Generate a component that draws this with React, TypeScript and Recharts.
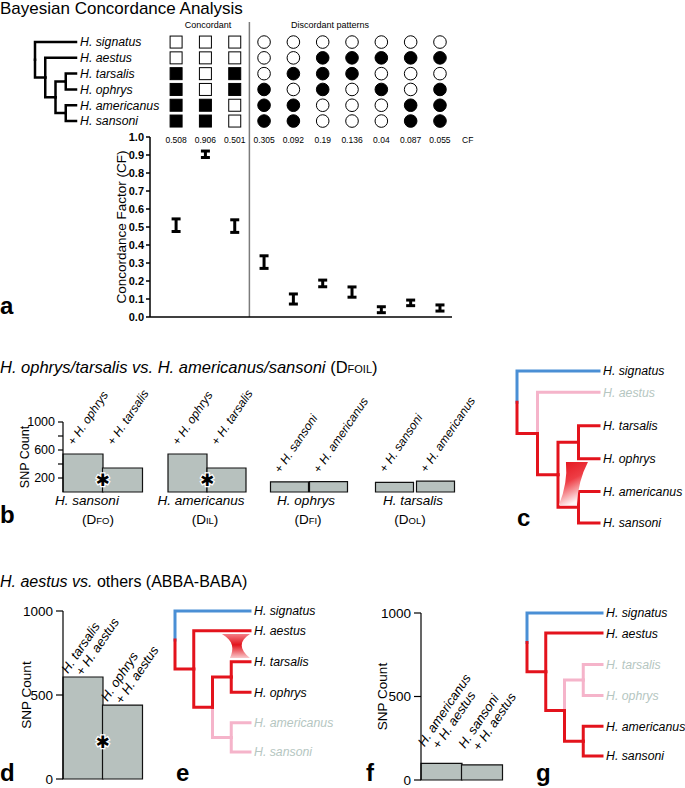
import React from "react"
import {
    ComposedChart,
    ScatterChart,
    BarChart,
    Scatter,
    Line,
    Bar,
    XAxis,
    YAxis,
    ErrorBar,
    ReferenceLine,
    LabelList,
} from "recharts"

const FONT = "'Liberation Sans', Arial, Helvetica, sans-serif"
const PAGE_W = 685
const PAGE_H = 788
const PAD = 100
const CHART_W = PAGE_W + 2 * PAD

const BLUE = "#4a8fd5"
const RED = "#e3131c"
const PINK = "#f5b4ca"
const FADED_TEXT = "#b5c6c1"
const BAR_FILL = "#b7c1be"

// ---- panel a: Bayesian concordance ----
const species = ["H. signatus", "H. aestus", "H. tarsalis", "H. ophrys", "H. americanus", "H. sansoni"]

// one row per split pattern, one entry per species (1 = filled)
const splitPatterns = [
    [0, 0, 1, 1, 1, 1],
    [0, 0, 0, 0, 1, 1],
    [0, 0, 1, 1, 0, 0],
    [0, 0, 0, 1, 1, 1],
    [0, 0, 1, 0, 1, 1],
    [0, 1, 1, 1, 0, 0],
    [0, 1, 1, 0, 0, 0],
    [0, 1, 0, 1, 0, 0],
    [0, 1, 0, 0, 1, 1],
    [0, 1, 0, 1, 1, 1],
]
const concordantCount = 3
const cfMean = [0.508, 0.906, 0.501, 0.305, 0.092, 0.19, 0.136, 0.04, 0.087, 0.055]
const cfLow = [0.475, 0.886, 0.47, 0.27, 0.072, 0.168, 0.11, 0.024, 0.063, 0.033]
const cfHigh = [0.545, 0.922, 0.54, 0.34, 0.128, 0.205, 0.167, 0.057, 0.094, 0.067]
const cfTicks = [0, 0.1, 0.2, 0.3, 0.4, 0.5, 0.6, 0.7, 0.8, 0.9, 1.0]

// ---- panel b: DFOIL ----
const dfoilGroups = ["H. sansoni", "H. americanus", "H. ophrys", "H. tarsalis"]
const dfoilStats = ["FO", "IL", "FI", "OL"]
const dfoilBars = [
    ["+ H. ophrys", "+ H. tarsalis"],
    ["+ H. ophrys", "+ H. tarsalis"],
    ["+ H. sansoni", "+ H. americanus"],
    ["+ H. sansoni", "+ H. americanus"],
]
const dfoilCounts = [
    [543, 343],
    [543, 343],
    [145, 148],
    [138, 155],
]
const dfoilSignificant = [true, true, false, false]
const dfoilTicks = [200, 400, 600, 800, 1000]
const dfoilTickLabels = [200, 600, 1000]

// ---- panels d / f: ABBA-BABA ----
const abbaTicks = [0, 500, 1000]
const abbaBarsD = [
    ["H. tarsalis", "+ H. aestus"],
    ["H. ophrys", "+ H. aestus"],
]
const abbaCountsD = [607, 440]
const abbaBarsF = [
    ["H. americanus", "+ H. aestus"],
    ["H. sansoni", "+ H. aestus"],
]
const abbaCountsF = [100, 90]

// ---- trees ----
type Clade = { id: string; kids?: Clade[] }
const cladogram: Clade = {
    id: "root",
    kids: [
        { id: "H. signatus" },
        {
            id: "aestus+ingroup",
            kids: [
                { id: "H. aestus" },
                {
                    id: "ingroup",
                    kids: [
                        { id: "tarsalis+ophrys", kids: [{ id: "H. tarsalis" }, { id: "H. ophrys" }] },
                        { id: "americanus+sansoni", kids: [{ id: "H. americanus" }, { id: "H. sansoni" }] },
                    ],
                },
            ],
        },
    ],
}
const TIP_DEPTH = 4
const bcaTreeRows = [0, 1, 2, 3, 4, 5]
const introTreeRows = [0, 0.65, 1.67, 2.67, 3.67, 4.63]
const fadedC = ["H. aestus"]
const fadedE = ["americanus+sansoni", "H. americanus", "H. sansoni"]
const fadedG = ["tarsalis+ophrys", "H. tarsalis", "H. ophrys"]
const introgressionC = [{ x: 2.68, y: 3.41 }]
const introgressionE = [{ x: 3.25, y: 1.15 }]

type Seg = { id: string; pts: { x: number; y: number }[] }
function layoutTree(node: Clade, depth: number, rows: number[], out: Seg[]): number {
    if (!node.kids) return rows[species.indexOf(node.id)]
    const ys = node.kids.map((k) => layoutTree(k, depth + 1, rows, out))
    const y = (ys[0] + ys[ys.length - 1]) / 2
    node.kids.forEach((k, i) => {
        const kx = k.kids ? depth + 1 : TIP_DEPTH
        out.push({ id: k.id, pts: [{ x: depth, y }, { x: depth, y: ys[i] }, { x: kx, y: ys[i] }] })
    })
    return y
}

function frame(l: number, t: number, r: number, b: number, leftW = 0, rightW = 0, bottomH = 0) {
    return { top: t, left: l + PAD - leftW, right: PAGE_W + PAD - r - rightW, bottom: PAGE_H - b - bottomH }
}

const layer: React.CSSProperties = { position: "absolute", left: -PAD, top: 0, width: CHART_W, height: PAGE_H }

function speciesSpans(s: string) {
    if (s.startsWith("+ ")) {
        return [
            <tspan key="p">+ </tspan>,
            <tspan key="s" fontStyle="italic">{s.slice(2)}</tspan>,
        ]
    }
    return <tspan fontStyle="italic">{s}</tspan>
}

// ---------------------------------------------------------------- trees
interface TreeProps {
    box: [number, number, number, number]
    rows: number[]
    faded?: string[]
    mono?: boolean
    wedge?: { x: number; y: number }[]
    wedgeShape?: (p: any) => React.ReactElement
}

function Tree({ box, rows, faded = [], mono, wedge, wedgeShape }: TreeProps) {
    const segs: Seg[] = []
    layoutTree(cladogram, 0, rows, segs)
    const colorOf = (id: string) => {
        if (mono) return "#000"
        if (id === "H. signatus") return BLUE
        return faded.includes(id) ? PINK : RED
    }
    const ordered = [...segs].sort((a, b) => Number(faded.includes(b.id)) - Number(faded.includes(a.id)))
    const [l, t, r, b] = box
    return (
        <div style={layer}>
            <ComposedChart width={CHART_W} height={PAGE_H} margin={frame(l, t, r, b, 0, 100, 0)}>
                <XAxis type="number" dataKey="x" domain={[0, TIP_DEPTH]} hide />
                <YAxis
                    type="number"
                    dataKey="y"
                    orientation="right"
                    reversed
                    domain={[rows[0], rows[rows.length - 1]]}
                    ticks={rows}
                    interval={0}
                    width={100}
                    axisLine={false}
                    tickLine={false}
                    tickSize={0}
                    tickMargin={4}
                    tick={(p: any) => {
                        const name = species[rows.indexOf(p.payload.value)]
                        return (
                            <text
                                x={p.x}
                                y={p.y}
                                dy="0.36em"
                                textAnchor="start"
                                fontSize={12.3}
                                fontStyle="italic"
                                fill={!mono && faded.includes(name) ? FADED_TEXT : "#000"}
                            >
                                {name}
                            </text>
                        )
                    }}
                />
                {ordered.map((s) => (
                    <Line
                        key={s.id}
                        data={s.pts}
                        dataKey="y"
                        stroke={colorOf(s.id)}
                        strokeWidth={mono ? 2.5 : 3}
                        strokeLinecap="square"
                        dot={false}
                        activeDot={false}
                        isAnimationActive={false}
                    />
                ))}
                {wedge && wedgeShape && (
                    <Scatter data={wedge} dataKey="y" shape={wedgeShape} isAnimationActive={false} />
                )}
            </ComposedChart>
        </div>
    )
}

const HornWedge = (p: any) => (
    <g transform={`translate(${p.cx},${p.cy})`}>
        <defs>
            <linearGradient id="hornGrad" x1="0" y1="0" x2="0.35" y2="1">
                <stop offset="0" stopColor={RED} />
                <stop offset="0.5" stopColor="#ee3d45" />
                <stop offset="1" stopColor="#fff4f4" />
            </linearGradient>
        </defs>
        <path d="M -6 -21 L 16 -21 Q 6 -2 5 22 L -13 22 Q -4 0 -6 -21 Z" fill="url(#hornGrad)" />
    </g>
)

const HourglassWedge = (p: any) => (
    <g transform={`translate(${p.cx},${p.cy})`}>
        <defs>
            <linearGradient id="glassGrad" x1="0" y1="0" x2="0" y2="1">
                <stop offset="0" stopColor="#f47e86" />
                <stop offset="0.45" stopColor={RED} />
                <stop offset="1" stopColor="#f9c9cc" />
            </linearGradient>
        </defs>
        <path d="M -14 -12 L 14 -12 C 3 -5 3 3 14 12 L -6 12 C -2 3 -2 -5 -14 -12 Z" fill="url(#glassGrad)" />
    </g>
)

// ---------------------------------------------------------------- bar labels
function rotatedLabels(
    lines: string[][],
    opt: { dx: number; dy: number; size: number; fromMax?: number; star?: boolean; indent?: number }
) {
    return (p: any) => {
        const vb = p.viewBox && p.viewBox.width != null ? p.viewBox : p
        const x = Number(vb.x)
        const y = Number(vb.y)
        const w = Number(vb.width)
        const h = Number(vb.height)
        const i = Number(p.index)
        const value = Number(p.value)
        const bottom = y + h
        const top = opt.fromMax ? bottom - (opt.fromMax * h) / value : y
        const ax = x + w / 2 + opt.dx
        const ay = top + opt.dy
        return (
            <g>
                <text transform={`translate(${ax},${ay}) rotate(-56)`} fontSize={opt.size} fill="#000">
                    {lines[i].map((ln, k) => (
                        <tspan key={k} x={k * (opt.indent ?? 0)} y={k * (opt.size + 0.5)}>
                            {speciesSpans(ln)}
                        </tspan>
                    ))}
                </text>
                {opt.star && i === 1 && (
                    <text
                        x={x}
                        y={y + h / 2}
                        textAnchor="middle"
                        dominantBaseline="central"
                        fontFamily="'DejaVu Sans', sans-serif"
                        fontSize={17}
                        fill="#000"
                        stroke="#fff"
                        strokeWidth={2.5}
                        paintOrder="stroke"
                    >
                        ✱
                    </text>
                )}
            </g>
        )
    }
}

function SnpBars(props: {
    box: [number, number, number, number]
    names: string[][]
    counts: number[]
    gap: number
    axis?: { ticks: number[]; labels: number[]; width: number; fontSize: number; tickSize: number; titleSize: number }
    label: (p: any) => React.ReactElement
}) {
    const { box, names, counts, gap, axis, label } = props
    const [l, t, r, b] = box
    const data = counts.map((snp, i) => ({ name: names[i].join(" "), snp }))
    return (
        <div style={layer}>
            <BarChart
                width={CHART_W}
                height={PAGE_H}
                data={data}
                margin={frame(l, t, r, b, axis ? axis.width : 0, 0, 0)}
                barCategoryGap={gap}
            >
                <XAxis dataKey="name" hide />
                {axis ? (
                    <YAxis
                        type="number"
                        domain={[0, 1000]}
                        ticks={axis.ticks}
                        interval={0}
                        width={axis.width}
                        tickSize={axis.tickSize}
                        tickMargin={3}
                        axisLine={{ stroke: "#000", strokeWidth: 1.2 }}
                        tickLine={{ stroke: "#000", strokeWidth: 1.2 }}
                        tick={{ fontSize: axis.fontSize, fill: "#000" }}
                        tickFormatter={(v: number) => (axis.labels.includes(v) ? String(v) : "")}
                        label={{ value: "SNP Count", angle: -90, position: "center", fontSize: axis.titleSize, fill: "#000" }}
                    />
                ) : (
                    <YAxis type="number" domain={[0, 1000]} hide />
                )}
                <Bar dataKey="snp" fill={BAR_FILL} stroke="#111" strokeWidth={1.2} isAnimationActive={false}>
                    <LabelList dataKey="snp" content={label} />
                </Bar>
            </BarChart>
        </div>
    )
}

// ---------------------------------------------------------------- app
export default function App() {
    const colDomain: [number, number] = [-0.89, 9.41]
    const splitBoundary = concordantCount - 0.5
    const matrixCells = splitPatterns.flatMap((pat, col) =>
        pat.map((on, row) => ({ col, row, on, concordant: col < concordantCount }))
    )
    const cfPoints = cfMean.map((cf, col) => ({ col, cf, err: [cf - cfLow[col], cfHigh[col] - cf] }))

    const dfoilBoxes: [number, number, number, number][] = [
        [63, 422, 142, 492],
        [168, 422, 246, 492],
        [270, 422, 348, 492],
        [374, 422, 456, 492],
    ]
    const dfoilLabelX = [87, 201, 306, 413]
    const dfoilStatX = [98, 205, 308, 410]

    return (
        <div
            style={{
                position: "absolute",
                left: 0,
                top: 0,
                width: PAGE_W,
                height: PAGE_H,
                overflow: "hidden",
                background: "#fff",
                fontFamily: FONT,
            }}
        >
            {/* panel a: species tree */}
            <Tree box={[35, 42, 76, 121]} rows={bcaTreeRows} mono />

            {/* panel a: split pattern matrix */}
            <div style={layer}>
                <ScatterChart width={CHART_W} height={PAGE_H} margin={frame(150, 22, 452, 137, 0, 0, 20)}>
                    <XAxis
                        type="number"
                        dataKey="col"
                        domain={colDomain}
                        ticks={cfMean.map((_, i) => i)}
                        interval={0}
                        height={20}
                        axisLine={false}
                        tickLine={false}
                        tickSize={0}
                        tickMargin={0}
                        tick={(p: any) => (
                            <text x={p.x} y={p.y + 6} textAnchor="middle" fontSize={8.5} fill="#000">
                                {String(cfMean[p.payload.value])}
                            </text>
                        )}
                    />
                    <YAxis type="number" dataKey="row" domain={[-1.27, 6.01]} reversed hide />
                    <ReferenceLine x={splitBoundary} stroke="#7b7b7b" strokeWidth={1.5} />
                    <Scatter
                        data={matrixCells}
                        isAnimationActive={false}
                        shape={(p: any) => {
                            const fill = p.payload.on ? "#000" : "#fff"
                            return p.payload.concordant ? (
                                <rect x={p.cx - 6} y={p.cy - 6} width={12} height={12} fill={fill} stroke="#000" strokeWidth={1} />
                            ) : (
                                <circle cx={p.cx} cy={p.cy} r={6.3} fill={fill} stroke="#000" strokeWidth={1} />
                            )
                        }}
                    />
                </ScatterChart>
            </div>

            {/* panel a: concordance factors */}
            <div style={layer}>
                <ScatterChart width={CHART_W} height={PAGE_H} margin={frame(150, 137, 452, 317, 58, 0, 1)}>
                    <XAxis
                        type="number"
                        dataKey="col"
                        domain={colDomain}
                        height={1}
                        tick={false}
                        tickLine={false}
                        axisLine={{ stroke: "#000", strokeWidth: 1.5 }}
                    />
                    <YAxis
                        type="number"
                        dataKey="cf"
                        domain={[0, 1]}
                        ticks={cfTicks}
                        interval={0}
                        width={58}
                        tickSize={4}
                        tickMargin={2}
                        axisLine={{ stroke: "#000", strokeWidth: 1.5 }}
                        tickLine={{ stroke: "#000", strokeWidth: 1.5 }}
                        tick={{ fontSize: 11, fontWeight: 700, fill: "#000" }}
                        tickFormatter={(v: number) => v.toFixed(1)}
                        label={{ value: "Concordance Factor (CF)", angle: -90, position: "center", fontSize: 13.5, fill: "#000" }}
                    />
                    <ReferenceLine x={splitBoundary} stroke="#7b7b7b" strokeWidth={1.5} />
                    <Scatter data={cfPoints} isAnimationActive={false} shape={() => <g />}>
                        <ErrorBar dataKey="err" direction="y" width={4.5} strokeWidth={3} stroke="#000" />
                    </Scatter>
                </ScatterChart>
            </div>

            {/* panel b: DFOIL bars */}
            {dfoilCounts.map((counts, k) => (
                <SnpBars
                    key={k}
                    box={dfoilBoxes[k]}
                    names={dfoilBars[k].map((s) => [s])}
                    counts={counts}
                    gap={k < 2 ? 0 : k === 2 ? 0.5 : 1.5}
                    axis={
                        k === 0
                            ? { ticks: dfoilTicks, labels: dfoilTickLabels, width: 76, fontSize: 12.5, tickSize: 5, titleSize: 12.5 }
                            : undefined
                    }
                    label={rotatedLabels(
                        dfoilBars[k].map((s) => [s]),
                        { dx: -9, dy: -8, size: 12, fromMax: Math.max(...counts), star: dfoilSignificant[k] }
                    )}
                />
            ))}

            {/* panel c */}
            <Tree
                box={[517, 371, 599, 523]}
                rows={introTreeRows}
                faded={fadedC}
                wedge={introgressionC}
                wedgeShape={HornWedge}
            />

            {/* panel d */}
            <SnpBars
                box={[63, 611, 142, 779]}
                names={abbaBarsD}
                counts={abbaCountsD}
                gap={0}
                axis={{ ticks: abbaTicks, labels: abbaTicks, width: 74, fontSize: 13.5, tickSize: 7, titleSize: 13.5 }}
                label={rotatedLabels(abbaBarsD, { dx: -15, dy: -3, size: 13, star: true, indent: 6 })}
            />

            {/* panel e */}
            <Tree
                box={[175, 611, 250, 752]}
                rows={introTreeRows}
                faded={fadedE}
                wedge={introgressionE}
                wedgeShape={HourglassWedge}
            />

            {/* panel f */}
            <SnpBars
                box={[421, 613, 502, 780]}
                names={abbaBarsF}
                counts={abbaCountsF}
                gap={0}
                axis={{ ticks: abbaTicks, labels: abbaTicks, width: 78, fontSize: 13.5, tickSize: 7, titleSize: 13.5 }}
                label={rotatedLabels(abbaBarsF, { dx: -17, dy: -16, size: 13, indent: 6 })}
            />

            {/* panel g */}
            <Tree box={[527, 613, 602, 756]} rows={introTreeRows} faded={fadedG} />

            {/* titles, headers and panel letters */}
            <svg
                width={PAGE_W}
                height={PAGE_H}
                style={{ position: "absolute", left: 0, top: 0, pointerEvents: "none" }}
                fontFamily={FONT}
                fill="#000"
            >
                <text x={0} y={14} fontSize={17}>Bayesian Concordance Analysis</text>
                <text x={208} y={28} fontSize={9} textAnchor="middle">Concordant</text>
                <text x={330} y={28} fontSize={9} textAnchor="middle">Discordant patterns</text>
                <text x={462} y={143} fontSize={8.5}>CF</text>
                <text x={0} y={314} fontSize={24} fontWeight={700}>a</text>

                <text x={0} y={373} fontSize={16.5}>
                    <tspan fontStyle="italic">H. ophrys/tarsalis vs. H. americanus/sansoni</tspan>
                    {" (D"}
                    <tspan fontSize={11}>FOIL</tspan>
                    {")"}
                </text>
                {dfoilGroups.map((g, k) => (
                    <text key={g} x={dfoilLabelX[k]} y={505} fontSize={13.5} fontStyle="italic" textAnchor="middle">
                        {g}
                    </text>
                ))}
                {dfoilStats.map((s, k) => (
                    <text key={s} x={dfoilStatX[k]} y={524} fontSize={13.5} textAnchor="middle">
                        (D<tspan fontSize={9.5}>{s}</tspan>)
                    </text>
                ))}
                <text x={0} y={523} fontSize={24} fontWeight={700}>b</text>
                <text x={517} y={526} fontSize={24} fontWeight={700}>c</text>

                <text x={0} y={587} fontSize={16}>
                    <tspan fontStyle="italic">H. aestus vs.</tspan>
                    {" others (ABBA-BABA)"}
                </text>
                <text x={0} y={781} fontSize={24} fontWeight={700}>d</text>
                <text x={176} y={781} fontSize={24} fontWeight={700}>e</text>
                <text x={366} y={781} fontSize={24} fontWeight={700}>f</text>
                <text x={536} y={781} fontSize={24} fontWeight={700}>g</text>
            </svg>
        </div>
    )
}
